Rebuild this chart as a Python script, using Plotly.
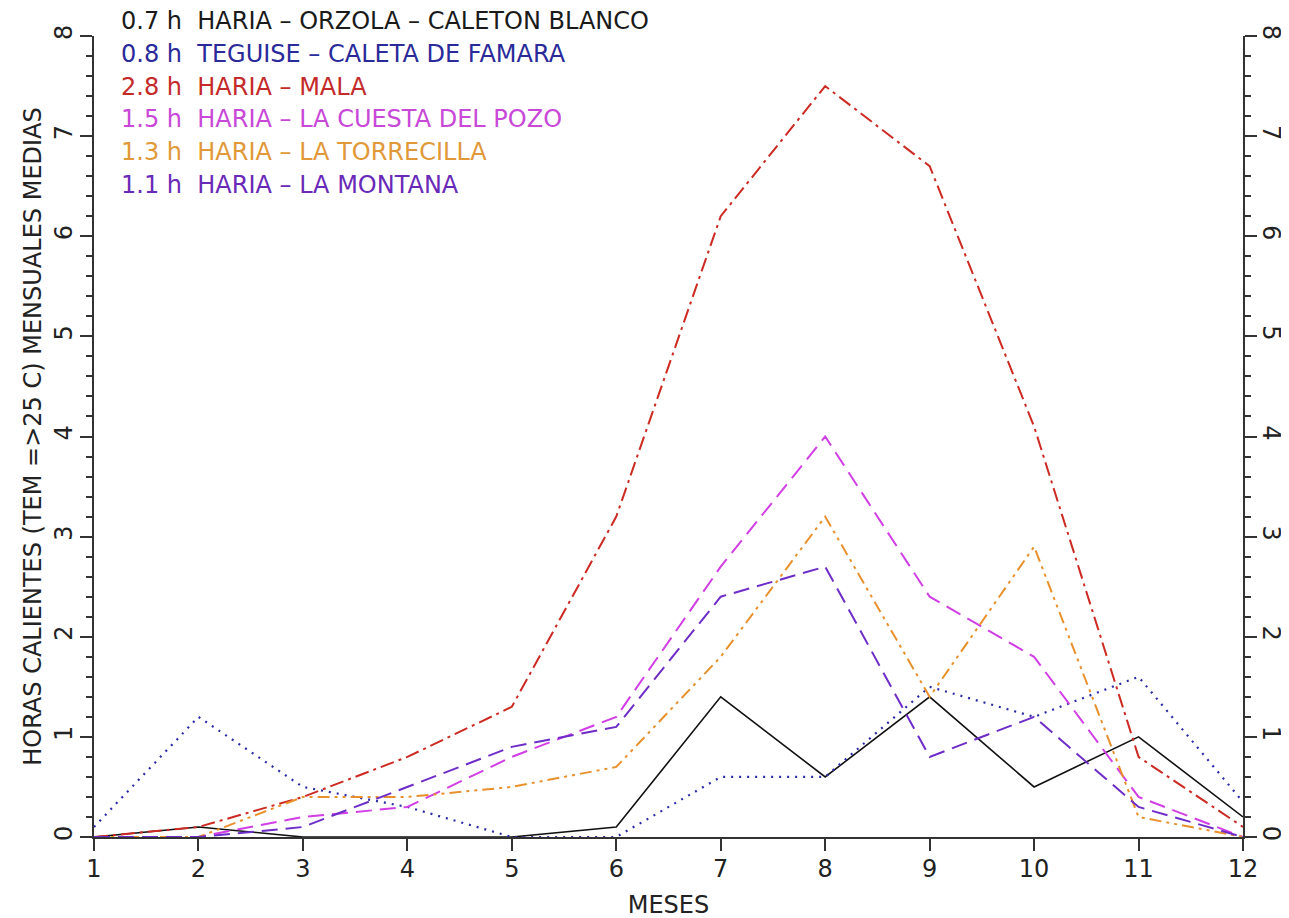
import plotly.graph_objects as go

months = list(range(1, 13))

orzola = [0, 0.1, 0, 0, 0, 0.1, 1.4, 0.6, 1.4, 0.5, 1.0, 0.2]
famara = [0.1, 1.2, 0.5, 0.3, 0, 0, 0.6, 0.6, 1.5, 1.2, 1.6, 0.35]
mala = [0, 0.1, 0.4, 0.8, 1.3, 3.2, 6.2, 7.5, 6.7, 4.1, 0.8, 0.1]
cuesta = [0, 0, 0.2, 0.3, 0.8, 1.2, 2.7, 4.0, 2.4, 1.8, 0.4, 0]
torrecilla = [0, 0, 0.4, 0.4, 0.5, 0.7, 1.8, 3.2, 1.4, 2.9, 0.2, 0]
montana = [0, 0, 0.1, 0.5, 0.9, 1.1, 2.4, 2.7, 0.8, 1.2, 0.3, 0]

series_names = [
    "0.7 h\u00a0\u00a0HARIA – ORZOLA – CALETON BLANCO",
    "0.8 h\u00a0\u00a0TEGUISE – CALETA DE FAMARA",
    "2.8 h\u00a0\u00a0HARIA – MALA",
    "1.5 h\u00a0\u00a0HARIA – LA CUESTA DEL POZO",
    "1.3 h\u00a0\u00a0HARIA – LA TORRECILLA",
    "1.1 h\u00a0\u00a0HARIA – LA MONTANA",
]
series_values = [orzola, famara, mala, cuesta, torrecilla, montana]
line_colors = ["#111111", "#2a2aa6", "#cc2a22", "#d23ee6", "#e8902c", "#6e2cc8"]
text_colors = ["#1a1a1a", "#2a2a9a", "#c42a2a", "#c848d8", "#e09838", "#6a2ab8"]
dashes = ["solid", "2px,6px", "14px,5px,3px,5px", "16px,8px",
          "12px,5px,3px,5px,3px,5px", "16px,8px"]
widths = [1.6, 2.2, 2, 2, 2, 2]

FONT = "DejaVu Sans"
AX = "#333333"
TXT = "#222222"
FS = 24

fig = go.Figure()
for name, vals, col, dash, w in zip(series_names, series_values, line_colors, dashes, widths):
    fig.add_trace(go.Scatter(x=months, y=vals, mode="lines", name=name,
                             line=dict(color=col, dash=dash, width=w),
                             showlegend=False))

# invisible trace to attach right axis
fig.add_trace(go.Scatter(x=months, y=mala, yaxis="y2", mode="lines",
                         line=dict(width=0), opacity=0, showlegend=False,
                         hoverinfo="skip"))

for i, (name, col) in enumerate(zip(series_names, text_colors)):
    fig.add_annotation(text=name, xref="paper", yref="paper",
                       x=0.0217, y=1.0185 - i * 0.0408,
                       xanchor="left", yanchor="middle", showarrow=False,
                       font=dict(family=FONT, size=FS, color=col))

tickfont = dict(family=FONT, size=FS, color=TXT)
axis_common = dict(showline=True, linecolor=AX, linewidth=2, ticks="outside",
                   ticklen=12, tickwidth=2, tickcolor=AX, showgrid=False,
                   zeroline=False, tickfont=tickfont)
minor = dict(tickmode="linear", tick0=0, dtick=0.2, ticks="outside",
             ticklen=6, tickwidth=2, tickcolor=AX, showgrid=False)

fig.update_layout(
    width=1289, height=918,
    margin=dict(l=86, r=51, t=28, b=86),
    plot_bgcolor="white", paper_bgcolor="white",
    xaxis=dict(range=[1, 12], dtick=1, tick0=1, ticklabelstandoff=-3,
               title=dict(text="MESES", font=dict(family=FONT, size=FS, color=TXT),
                          standoff=14),
               **axis_common),
    yaxis=dict(range=[0, 8], dtick=1, tickangle=-90, minor=minor, ticklabelstandoff=-2,
               title=dict(text="HORAS CALIENTES (TEM =>25 C) MENSUALES MEDIAS",
                          font=dict(family=FONT, size=FS, color=TXT), standoff=2),
               **axis_common),
    yaxis2=dict(range=[0, 8], dtick=1, tickangle=90, overlaying="y", side="right",
                minor=minor, ticklabelstandoff=-4, **axis_common),
)

fig.write_html("out.html")
